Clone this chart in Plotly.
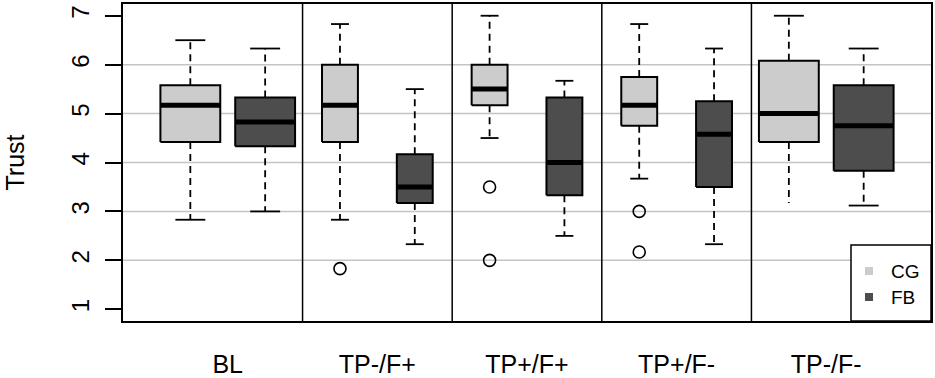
import plotly.graph_objects as go

# ---- data ----
groups = ["BL", "TP-/F+", "TP+/F+", "TP+/F-", "TP-/F-"]

cg_low = [2.83, 2.83, 4.5, 3.67, 3.17]
cg_q1 = [4.42, 4.42, 5.17, 4.75, 4.42]
cg_med = [5.17, 5.17, 5.5, 5.17, 5.0]
cg_q3 = [5.58, 6.0, 6.0, 5.75, 6.08]
cg_high = [6.5, 6.83, 7.0, 6.83, 7.0]
cg_out = [[], [1.83], [3.5, 2.0], [3.0, 2.17], []]

fb_low = [3.0, 2.33, 2.5, 2.33, 3.12]
fb_q1 = [4.33, 3.17, 3.33, 3.5, 3.83]
fb_med = [4.83, 3.5, 4.0, 4.58, 4.75]
fb_q3 = [5.33, 4.17, 5.33, 5.25, 5.58]
fb_high = [6.33, 5.5, 5.67, 6.33, 6.33]
fb_out = [[], [], [], [], []]

series_names = ["CG", "FB"]
y_ticks = [1, 2, 3, 4, 5, 6, 7]
grid_vals = [2, 3, 4, 5, 6]

# ---- styles ----
box_w = [0.8, 0.48, 0.48, 0.48, 0.8]
cg_lowcap = [True, True, True, True, False]
fb_lowcap = [True, True, True, True, True]
CG_COL = "#cccccc"
FB_COL = "#4d4d4d"
FONT = "Liberation Sans, Arial, sans-serif"

fig = go.Figure()

# grid lines (behind)
for g in grid_vals:
    fig.add_shape(type="line", xref="paper", x0=0, x1=1, yref="y", y0=g, y1=g,
                  line=dict(color="#c4c4c4", width=1.5), layer="below")


def draw_box(pos, w, low, q1, med, q3, high, outs, fill, lowcap):
    half = w / 2
    cap = w / 4
    fig.add_trace(go.Scatter(x=[pos, pos, None, pos, pos], y=[q3, high, None, q1, low],
                             mode="lines", line=dict(color="black", width=1.8, dash="7px,5px"),
                             showlegend=False, hoverinfo="skip"))
    cx = [pos - cap, pos + cap]
    cy = [high, high]
    if lowcap:
        cx += [None, pos - cap, pos + cap]
        cy += [None, low, low]
    fig.add_trace(go.Scatter(x=cx, y=cy, mode="lines", line=dict(color="black", width=1.8),
                             showlegend=False, hoverinfo="skip"))
    fig.add_trace(go.Scatter(x=[pos - half, pos + half, pos + half, pos - half, pos - half],
                             y=[q1, q1, q3, q3, q1], mode="lines", fill="toself",
                             fillcolor=fill, line=dict(color="black", width=2),
                             showlegend=False, hoverinfo="skip"))
    fig.add_trace(go.Scatter(x=[pos - half, pos + half], y=[med, med], mode="lines",
                             line=dict(color="black", width=5),
                             showlegend=False, hoverinfo="skip"))
    if outs:
        fig.add_trace(go.Scatter(x=[pos] * len(outs), y=outs, mode="markers",
                                 marker=dict(symbol="circle-open", size=12,
                                             color="black", line=dict(width=1.6)),
                                 showlegend=False, hoverinfo="skip"))


for i in range(len(groups)):
    p_cg = 2 * i + 1
    p_fb = 2 * i + 2
    draw_box(p_cg, box_w[i], cg_low[i], cg_q1[i], cg_med[i], cg_q3[i], cg_high[i],
             cg_out[i], CG_COL, cg_lowcap[i])
    draw_box(p_fb, box_w[i], fb_low[i], fb_q1[i], fb_med[i], fb_q3[i], fb_high[i],
             fb_out[i], FB_COL, fb_lowcap[i])

# separators between groups
for i in range(1, len(groups)):
    xs = 2 * i + 0.5
    fig.add_shape(type="line", xref="x", x0=xs, x1=xs, yref="paper", y0=0, y1=1,
                  line=dict(color="black", width=1.5))

# legend (drawn as a boxed key in the lower-right corner)
W_PLOT, H_PLOT = 808, 317
leg_left = 1 - 80 / W_PLOT
leg_top = 76 / H_PLOT
fig.add_shape(type="rect", xref="paper", yref="paper", x0=leg_left, x1=1, y0=0, y1=leg_top,
              line=dict(color="black", width=1.5), fillcolor="white")
for k, (name, col) in enumerate(zip(series_names, [CG_COL, FB_COL])):
    yc = (50 - 26 * k) / H_PLOT
    xc = leg_left + 18 / W_PLOT
    fig.add_shape(type="rect", xref="paper", yref="paper",
                  x0=xc - 4 / W_PLOT, x1=xc + 4 / W_PLOT,
                  y0=yc - 4 / H_PLOT, y1=yc + 4 / H_PLOT,
                  line=dict(width=0), fillcolor=col)
    fig.add_annotation(xref="paper", yref="paper", x=leg_left + 38 / W_PLOT, y=yc,
                       xanchor="left", yanchor="middle", text=name, showarrow=False,
                       font=dict(size=19))

n = 2 * len(groups)
fig.update_layout(
    width=935, height=378,
    margin=dict(l=123, r=4, t=4, b=57),
    paper_bgcolor="white", plot_bgcolor="white",
    font=dict(family=FONT, color="black", size=25),
    hovermode=False, showlegend=False,
    xaxis=dict(range=[0.5 - 0.04 * n, n + 0.5 + 0.04 * n],
               tickvals=[2 * i + 1.5 for i in range(len(groups))], ticktext=groups,
               ticks="", showgrid=False, zeroline=False, automargin=False,
               showline=True, mirror=True, linecolor="black", linewidth=2,
               tickfont=dict(size=25), ticklabelstandoff=20),
    yaxis=dict(range=[1 - 0.04 * 6, 7 + 0.04 * 6], tickvals=y_ticks,
               ticks="outside", ticklen=16, tickwidth=1.8, tickcolor="black",
               tickangle=-90, tickfont=dict(size=24), ticklabelstandoff=6,
               showgrid=False, zeroline=False, automargin=False,
               showline=True, mirror=True, linecolor="black", linewidth=2),
)
fig.add_annotation(xref="paper", yref="paper", x=(14 - 123) / W_PLOT, y=0.5,
                   xanchor="center", yanchor="middle", text="Trust", textangle=-90,
                   showarrow=False, font=dict(size=25))

fig.write_html("out.html", config={"displayModeBar": False},
               post_script="document.body.style.margin='0';")
